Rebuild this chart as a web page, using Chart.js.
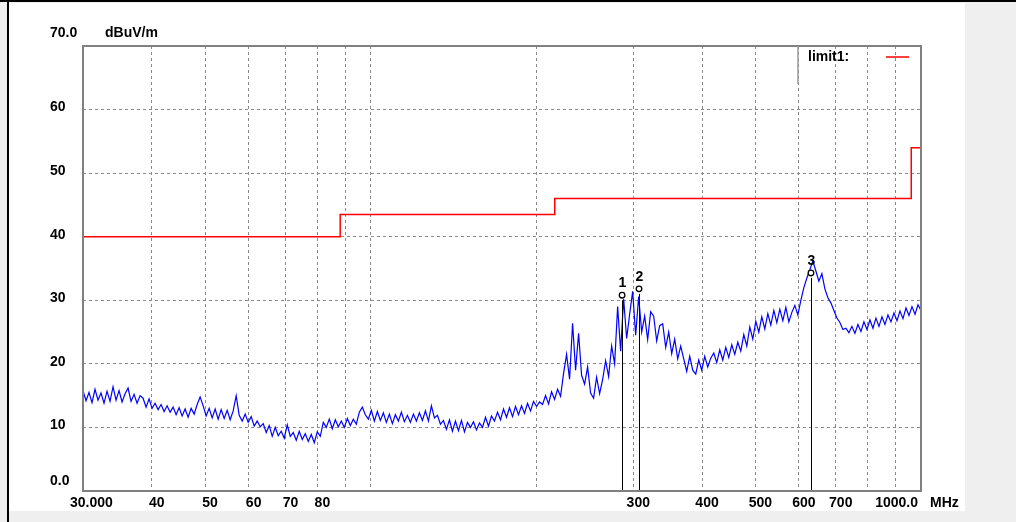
<!DOCTYPE html>
<html><head><meta charset="utf-8">
<script src="https://cdn.jsdelivr.net/npm/chart.js@4"></script>
<style>html,body{margin:0;padding:0;background:#efefef;}canvas{display:block;}</style>
</head><body>
<canvas id="c" width="1016" height="522"></canvas>
<script>
// ---- data ----
const sweepStartMHz = 30;
const sweepStopMHz = 1000;
const traceLevel = [
15.8,14.2,15.5,13.9,16.0,14.3,15.4,13.8,15.7,14.1,
16.4,14.3,15.8,14.0,15.3,16.2,14.1,15.2,13.8,15.0,
14.6,13.2,14.5,13.0,13.8,12.8,13.6,12.5,13.4,12.4,
13.2,12.0,13.1,11.8,12.9,11.6,13.0,12.1,13.6,14.8,
13.4,11.8,13.0,11.5,12.9,11.3,12.8,11.4,12.7,11.2,
12.6,15.0,11.9,11.0,12.1,10.8,11.7,10.2,11.0,10.1,
10.6,9.2,10.3,8.6,10.0,8.7,9.4,8.3,10.4,8.6,
9.2,8.0,9.4,8.1,9.0,7.8,8.9,7.6,9.3,8.6,
10.8,10.0,11.3,9.8,11.2,10.1,11.0,10.0,11.4,10.3,
11.3,10.5,12.4,13.2,12.0,11.3,12.7,11.0,12.5,11.1,
12.3,10.8,12.1,10.6,12.0,11.0,12.4,10.9,11.9,10.8,
12.1,11.0,12.3,11.1,12.6,11.0,13.4,11.5,11.9,10.5,
11.1,9.7,11.2,9.4,11.0,9.5,11.1,9.3,10.8,10.0,
10.9,9.6,10.7,10.0,11.6,10.2,11.8,11.0,12.4,11.2,
12.9,11.6,13.1,11.7,13.3,12.0,13.4,12.2,13.8,12.6,
14.1,13.3,14.0,13.6,15.0,13.7,15.6,14.4,16.0,14.9,
18.5,21.5,17.6,26.4,19.0,24.8,18.2,16.8,19.5,15.4,
14.6,17.9,15.3,17.5,20.5,18.0,22.8,20.0,29.0,22.0,
30.2,24.0,27.8,31.4,24.5,30.6,25.0,27.5,23.8,28.2,
27.5,23.6,26.0,26.3,22.6,25.0,21.6,23.9,20.8,22.8,
20.8,18.8,21.2,19.0,18.4,20.6,19.0,21.2,19.5,20.9,
21.7,20.2,22.2,20.6,22.6,21.0,23.0,21.5,23.4,22.0,
24.6,22.8,25.8,23.9,26.7,25.0,27.4,25.5,27.9,26.1,
28.4,26.5,28.6,26.8,28.9,26.6,28.1,29.2,27.7,30.0,
32.0,33.5,34.8,36.2,34.6,33.0,34.2,31.8,30.4,29.6,
28.4,27.2,26.5,25.4,25.6,24.9,25.9,24.8,26.2,25.1,
26.6,25.4,26.9,25.6,27.2,25.9,27.4,26.2,27.7,26.6,
28.0,26.8,28.3,27.1,28.8,27.6,29.0,27.8,29.3,28.4
];
const limitFreq  = [30, 88, 88, 216, 216, 960, 960, 1000];
const limitLevel = [40, 40, 43.5, 43.5, 46, 46, 54, 54];
const markerFreq  = [286.3, 307.3, 631];
const markerLevel = [30.8, 31.8, 34.3];
const markerLabel = ['1', '2', '3'];
const xGridMHz = [40, 50, 60, 70, 80, 90, 100, 200, 300, 400, 500, 600, 700, 800, 900];
const xTickValues = [30, 40, 50, 60, 70, 80, 300, 400, 500, 600, 700, 1000];
const xTickText = ['30.000', '40', '50', '60', '70', '80', '300', '400', '500', '600', '700', '1000.0'];
const yGridValues = [10, 20, 30, 40, 50, 60];
const yTickValues = [70, 60, 50, 40, 30, 20, 10, 0];
const yTickText = ['70.0', '60', '50', '40', '30', '20', '10', '0.0'];
const yUnit = 'dBuV/m';
const xUnit = 'MHz';
const legendText = 'limit1:';

// ---- build ----
const n = traceLevel.length;
const tracePts = traceLevel.map((v, i) => ({
  x: sweepStartMHz * Math.pow(sweepStopMHz / sweepStartMHz, i / (n - 1)), y: v }));
const limitPts = limitFreq.map((f, i) => ({ x: f, y: limitLevel[i] }));
const markerPts = markerFreq.map((f, i) => ({ x: f, y: markerLevel[i] }));

const FONT = 'bold 14px "Liberation Sans", Arial, sans-serif';

const frame = {
  id: 'frame',
  beforeDraw(chart) {
    const ctx = chart.ctx;
    ctx.save();
    ctx.fillStyle = '#efefef';
    ctx.fillRect(0, 0, chart.width, chart.height);
    ctx.fillStyle = '#ffffff';
    ctx.fillRect(9, 3, 956, 508);
    ctx.fillStyle = '#000';
    ctx.fillRect(0, 0, chart.width, 2);
    ctx.fillRect(7, 0, 2, chart.height);
    ctx.restore();
  },
  afterDatasetsDraw(chart) {
    const ctx = chart.ctx, a = chart.chartArea, xs = chart.scales.x, ys = chart.scales.y;
    ctx.save();
    ctx.strokeStyle = '#000'; ctx.lineWidth = 1;
    ctx.font = FONT; ctx.fillStyle = '#000'; ctx.textAlign = 'center'; ctx.textBaseline = 'middle';
    markerFreq.forEach((f, i) => {
      const px = Math.round(xs.getPixelForValue(f)) + 0.5;
      const py = ys.getPixelForValue(markerLevel[i]);
      ctx.beginPath(); ctx.moveTo(px, py + 5); ctx.lineTo(px, a.bottom); ctx.stroke();
      ctx.fillText(markerLabel[i], px, py - 12);
    });
    ctx.strokeStyle = '#808080'; ctx.lineWidth = 2;
    ctx.strokeRect(a.left, a.top, a.right - a.left, a.bottom - a.top);
    ctx.lineWidth = 1.5;
    ctx.beginPath(); ctx.moveTo(798, a.top); ctx.lineTo(798, 84); ctx.strokeStyle = '#9a9a9a'; ctx.stroke();
    ctx.textAlign = 'left';
    ctx.fillText(legendText, 808, 57);
    ctx.strokeStyle = '#ff0000'; ctx.lineWidth = 1.5;
    ctx.beginPath(); ctx.moveTo(886, 57); ctx.lineTo(909, 57); ctx.stroke();
    ctx.restore();
  },
  afterDraw(chart) {
    const ctx = chart.ctx, a = chart.chartArea, xs = chart.scales.x, ys = chart.scales.y;
    ctx.save();
    ctx.font = FONT; ctx.fillStyle = '#000'; ctx.textBaseline = 'middle';
    ctx.textAlign = 'left';
    yTickValues.forEach((v, i) => {
      let y = ys.getPixelForValue(v) - 2;
      if (v === 70) y = a.top - 13;
      if (v === 0) y = a.bottom - 10;
      ctx.fillText(yTickText[i], 50, y);
    });
    ctx.fillText(yUnit, 105, a.top - 13);
    const ly = a.bottom + 12;
    const last = xTickValues.length - 1;
    xTickValues.forEach((v, i) => {
      const px = xs.getPixelForValue(v);
      if (i === 0) { ctx.textAlign = 'left'; ctx.fillText(xTickText[i], px - 13, ly); }
      else if (i === last) { ctx.textAlign = 'right'; ctx.fillText(xTickText[i], px - 3, ly); }
      else { ctx.textAlign = 'center'; ctx.fillText(xTickText[i], px + 5, ly); }
    });
    ctx.textAlign = 'left';
    ctx.fillText(xUnit, a.right + 9, ly);
    ctx.restore();
  }
};

new Chart(document.getElementById('c'), {
  type: 'line',
  data: {
    datasets: [
      { label: 'trace', data: tracePts, borderColor: '#0000ff', borderWidth: 1.2,
        pointRadius: 0, tension: 0, fill: false, order: 2 },
      { label: 'limit1', data: limitPts, borderColor: '#ff0000', borderWidth: 1.5,
        pointRadius: 0, tension: 0, fill: false, order: 1 },
      { label: 'markers', data: markerPts, showLine: false, pointRadius: 2.8,
        pointStyle: 'circle', pointBorderColor: '#000', pointBackgroundColor: '#fff',
        pointBorderWidth: 1.3, order: 0 }
    ]
  },
  options: {
    responsive: false,
    animation: false,
    layout: { padding: { left: 0, right: 95, top: 46, bottom: 0 } },
    plugins: { legend: { display: false }, tooltip: { enabled: false } },
    scales: {
      x: {
        type: 'logarithmic', min: sweepStartMHz, max: sweepStopMHz,
        afterBuildTicks: s => { s.ticks = xGridMHz.map(v => ({ value: v })); },
        afterFit: s => { s.height = 31; },
        ticks: { display: false },
        grid: { color: '#8a8a8a', lineWidth: 1, drawTicks: false },
        border: { display: false, dash: [3, 3] }
      },
      y: {
        type: 'linear', min: 0, max: 70,
        afterBuildTicks: s => { s.ticks = yGridValues.map(v => ({ value: v })); },
        afterFit: s => { s.width = 83; },
        ticks: { display: false },
        grid: { color: '#8a8a8a', lineWidth: 1, drawTicks: false },
        border: { display: false, dash: [3, 3] }
      }
    }
  },
  plugins: [frame]
});
</script>
</body></html>
